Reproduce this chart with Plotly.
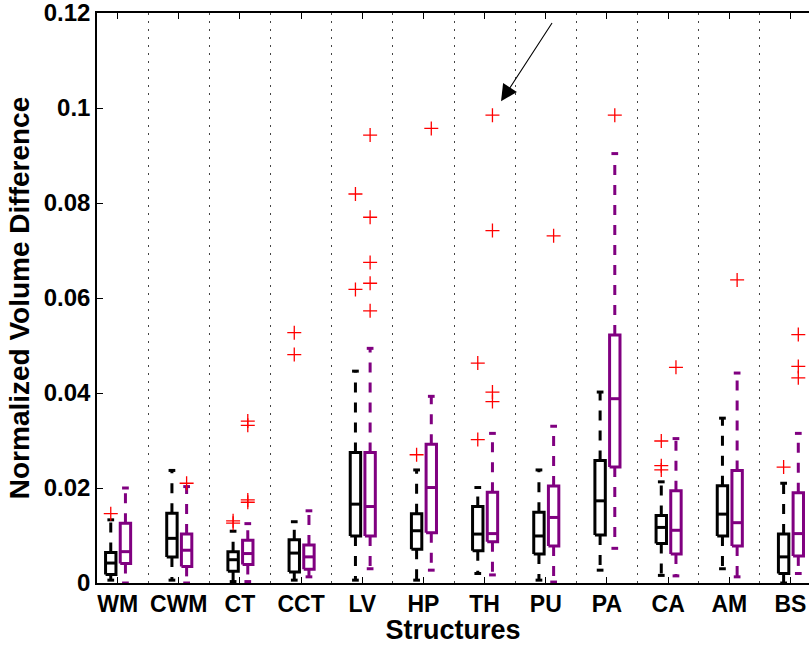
import plotly.graph_objects as go

# ---------------- data ----------------
categories = ["WM", "CWM", "CT", "CCT", "LV", "HP", "TH", "PU", "PA", "CA", "AM", "BS"]

# black boxes (method A)
lo_a  = [0.0006, 0.0006, 0.0003, 0.0006, 0.0006, 0.0006, 0.0020, 0.0006, 0.0027, 0.0016, 0.0030, 0.0000]
q1_a  = [0.0018, 0.0055, 0.0025, 0.0023, 0.0099, 0.0071, 0.0068, 0.0061, 0.0101, 0.0083, 0.0099, 0.0020]
med_a = [0.0042, 0.0094, 0.0049, 0.0063, 0.0166, 0.0110, 0.0103, 0.0099, 0.0173, 0.0117, 0.0145, 0.0055]
q3_a  = [0.0064, 0.0147, 0.0066, 0.0091, 0.0275, 0.0146, 0.0161, 0.0149, 0.0258, 0.0142, 0.0205, 0.0103]
hi_a  = [0.0133, 0.0237, 0.0109, 0.0129, 0.0446, 0.0238, 0.0201, 0.0238, 0.0402, 0.0213, 0.0347, 0.0210]
out_a = [[0.0146], [], [0.0126, 0.0131], [0.0527, 0.0481], [0.0819, 0.0618], [0.0270],
         [0.0463, 0.0302], [], [], [0.0299, 0.0247, 0.0238], [], [0.0244]]

# purple boxes (method B)
lo_b  = [0.0000, 0.0000, 0.0003, 0.0013, 0.0030, 0.0027, 0.0017, 0.0002, 0.0073, 0.0015, 0.0013, 0.0020]
q1_b  = [0.0041, 0.0035, 0.0039, 0.0029, 0.0099, 0.0106, 0.0087, 0.0078, 0.0244, 0.0061, 0.0078, 0.0057]
med_b = [0.0066, 0.0069, 0.0062, 0.0055, 0.0161, 0.0201, 0.0104, 0.0138, 0.0388, 0.0111, 0.0127, 0.0104]
q3_b  = [0.0126, 0.0103, 0.0090, 0.0080, 0.0275, 0.0292, 0.0191, 0.0204, 0.0522, 0.0194, 0.0237, 0.0190]
hi_b  = [0.0200, 0.0203, 0.0125, 0.0152, 0.0494, 0.0393, 0.0315, 0.0330, 0.0904, 0.0304, 0.0442, 0.0315]
out_b = [[], [0.0210], [0.0341, 0.0332, 0.0175, 0.0170], [], [0.0943, 0.0770, 0.0675, 0.0631, 0.0573],
         [0.0957], [0.0985, 0.0742, 0.0402, 0.0382], [0.0731], [0.0985], [0.0454], [0.0638],
         [0.0523, 0.0456, 0.0432]]

y_ticks = [0, 0.02, 0.04, 0.06, 0.08, 0.1, 0.12]
y_ticktext = ["0", "0.02", "0.04", "0.06", "0.08", "0.1", "0.12"]

# annotation arrow (tail -> tip), data coordinates
arrow_tail = (8.118, 0.1182)
arrow_tip = (7.268, 0.1014)

# ---------------- style ----------------
BLACK = "#000000"
PURPLE = "#800080"
OFF_A, OFF_B = -0.112, 0.128
HALF_W = 0.085
CAP_W = 0.055
LW = 3
FONT = "Liberation Sans, Arial, Helvetica, sans-serif"

fig = go.Figure()


def add_group(lo, q1, med, q3, hi, outs, offset, color):
    bx, by, mx, my, cx, cy, ox, oy = [], [], [], [], [], [], [], []
    for i in range(len(categories)):
        c = i + 1 + offset
        bx += [c - HALF_W, c + HALF_W, c + HALF_W, c - HALF_W, c - HALF_W, None]
        by += [q1[i], q1[i], q3[i], q3[i], q1[i], None]
        mx += [c - HALF_W, c + HALF_W, None]
        my += [med[i], med[i], None]
        cx += [c - CAP_W, c + CAP_W, None, c - CAP_W, c + CAP_W, None]
        cy += [hi[i], hi[i], None, lo[i], lo[i], None]
        # whiskers, separate traces so that the dash pattern starts at the box
        for a, b in ((q3[i], hi[i]), (q1[i], lo[i])):
            fig.add_trace(go.Scatter(x=[c, c], y=[a, b], mode="lines",
                                     line=dict(color=color, width=LW, dash="10px,10px"),
                                     hoverinfo="skip", showlegend=False))
        for v in outs[i]:
            ox.append(c)
            oy.append(v)
    fig.add_trace(go.Scatter(x=cx, y=cy, mode="lines", line=dict(color=color, width=LW),
                             hoverinfo="skip", showlegend=False))
    fig.add_trace(go.Scatter(x=bx, y=by, mode="lines", line=dict(color=color, width=LW),
                             fill="toself", fillcolor="white",
                             hoverinfo="skip", showlegend=False))
    fig.add_trace(go.Scatter(x=mx, y=my, mode="lines", line=dict(color=color, width=LW),
                             hoverinfo="skip", showlegend=False))
    fig.add_trace(go.Scatter(x=ox, y=oy, mode="markers",
                             marker=dict(symbol="cross-thin", size=10,
                                         line=dict(color="#ff0000", width=1.3)),
                             hoverinfo="skip", showlegend=False))


add_group(lo_a, q1_a, med_a, q3_a, hi_a, out_a, OFF_A, BLACK)
add_group(lo_b, q1_b, med_b, q3_b, hi_b, out_b, OFF_B, PURPLE)

n = len(categories)
fig.add_annotation(x=arrow_tip[0], y=arrow_tip[1], ax=arrow_tail[0], ay=arrow_tail[1],
                   xref="x", yref="y", axref="x", ayref="y", text="",
                   showarrow=True, arrowhead=2, arrowsize=3, arrowwidth=1.1,
                   arrowcolor="black", standoff=0)

bold = lambda s: "<b>%s</b>" % s

fig.update_layout(
    width=809, height=645,
    margin=dict(l=97, r=0, t=13, b=62),
    paper_bgcolor="white", plot_bgcolor="white",
    font=dict(family=FONT, color="black"),
    showlegend=False,
    xaxis=dict(
        range=[0.663, 12.303],
        tickmode="array", tickvals=list(range(1, n + 1)),
        ticktext=[bold(c) for c in categories],
        tickfont=dict(family=FONT, size=23, color="black"),
        ticks="inside", ticklen=6, tickwidth=1, tickcolor="black",
        showline=True, linecolor="black", linewidth=1.5, mirror="ticks",
        showgrid=False, zeroline=False, automargin=False, ticklabeloverflow="allow",
        minor=dict(tickmode="array", tickvals=[i + 1.5 for i in range(n - 1)],
                   showgrid=True, griddash="2px,6px", gridcolor="#444444",
                   gridwidth=1.3, ticks=""),
        title=dict(text=bold("Structures"), standoff=2,
                   font=dict(family=FONT, size=27, color="black")),
    ),
    yaxis=dict(
        range=[0, 0.12],
        tickmode="array", tickvals=y_ticks, ticktext=[bold(t) for t in y_ticktext],
        tickfont=dict(family=FONT, size=24, color="black"),
        ticks="inside", ticklen=6, tickwidth=1, tickcolor="black",
        showline=True, linecolor="black", linewidth=1.5, mirror=False,
        showgrid=False, zeroline=False, automargin=False, ticklabeloverflow="allow",
        title=dict(text=bold("Normalized Volume Difference"), standoff=6,
                   font=dict(family=FONT, size=28, color="black")),
    ),
)

fig.write_html("out.html", config={"displayModeBar": False},
               post_script="document.body.style.margin='0px';")
